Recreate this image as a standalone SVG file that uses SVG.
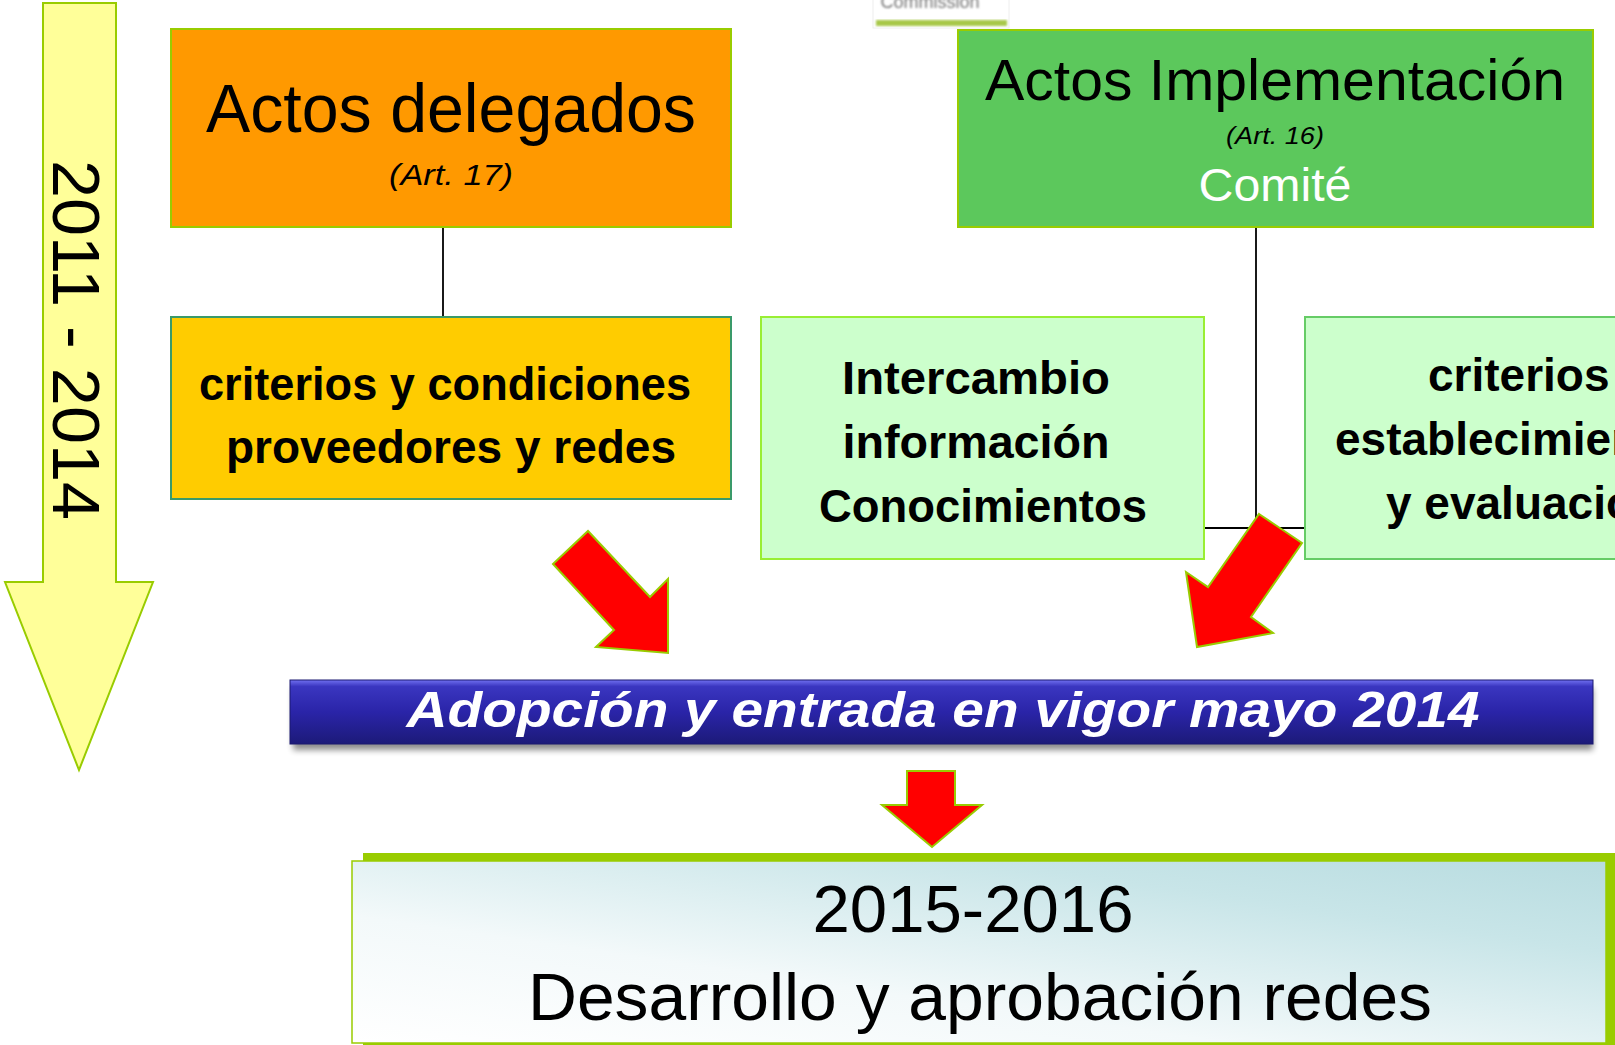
<svg xmlns="http://www.w3.org/2000/svg" width="1615" height="1045" viewBox="0 0 1615 1045">
<defs>
<style>
.box{stroke-width:2}
.sans{font-family:"Liberation Sans",Arial,sans-serif}
.bold{font-weight:bold}
.ital{font-style:italic}
.conn{stroke:#000;stroke-width:1.8;fill:none}
.red{fill:#FF0000;stroke:#99CC00;stroke-width:2;stroke-linejoin:miter}
</style>
<linearGradient id="blueGrad" x1="0" y1="0" x2="0" y2="1">
<stop offset="0" stop-color="#7070F0"/>
<stop offset="0.1" stop-color="#3A36C0"/>
<stop offset="0.5" stop-color="#2A24A8"/>
<stop offset="1" stop-color="#1C1A78"/>
</linearGradient>
<linearGradient id="tealGrad" x1="0" y1="1" x2="1" y2="0">
<stop offset="0" stop-color="#FFFFFF"/>
<stop offset="0.35" stop-color="#F3F9FA"/>
<stop offset="0.75" stop-color="#C8E5E8"/>
<stop offset="1" stop-color="#B8DCE0"/>
</linearGradient>
<filter id="shadow" x="-5%" y="-50%" width="110%" height="200%">
<feGaussianBlur stdDeviation="3"/>
</filter>
<filter id="blur1"><feGaussianBlur stdDeviation="0.8"/></filter>
</defs>

<g id="logo">
<rect x="873" y="-2" width="136" height="30" fill="#FFFFFF" stroke="#EEEEEE" stroke-width="1"/>
<text x="930" y="8" class="sans" font-size="18" fill="#777777" text-anchor="middle" filter="url(#blur1)">Commission</text>
<rect x="876" y="20" width="131" height="6" fill="#A8C84A" filter="url(#blur1)"/>
</g>

<g id="timeline">
<polygon points="43,3 116,3 116,582 153,582 79,770 5,582 43,582" fill="#FFFF99" stroke="#99CC00" stroke-width="2"/>
<text transform="translate(53,340) rotate(90)" x="0" y="0" class="sans" font-size="67" text-anchor="middle" textLength="360" lengthAdjust="spacingAndGlyphs" fill="#000">2011 - 2014</text>
</g>

<g id="connectors">
<line class="conn" x1="443" y1="227" x2="443" y2="317"/>
<line class="conn" x1="1256" y1="227" x2="1256" y2="528"/>
<line class="conn" x1="1204" y1="528" x2="1305" y2="528"/>
<polygon id="arrow1" class="red" points="553,564 588,531 650,597 668,579 668,653 596,647 614,630"/>
<polygon id="arrow2" class="red" points="1259,514 1302,543 1251,617 1273,633 1197,647 1186,572 1208,587"/>
<polygon id="arrow3" class="red" points="907,771 955,771 955,805 982,805 932,847 882,805 907,805"/>
</g>

<g id="actos-delegados">
<rect x="171" y="29" width="560" height="198" fill="#FF9900" stroke="#99CC00" class="box"/>
<text x="451" y="132" class="sans" font-size="68" text-anchor="middle" textLength="490" lengthAdjust="spacingAndGlyphs" fill="#000">Actos delegados</text>
<text x="451" y="185" class="sans ital" font-size="30" text-anchor="middle" textLength="124" lengthAdjust="spacingAndGlyphs" fill="#000">(Art. 17)</text>
</g>

<g id="actos-implementacion">
<rect x="958" y="30" width="635" height="197" fill="#5CC85C" stroke="#99CC00" class="box"/>
<text x="1275" y="100" class="sans" font-size="57" text-anchor="middle" textLength="580" lengthAdjust="spacingAndGlyphs" fill="#000">Actos Implementación</text>
<text x="1275" y="144" class="sans ital" font-size="24" text-anchor="middle" textLength="98" lengthAdjust="spacingAndGlyphs" fill="#000">(Art. 16)</text>
<text x="1275" y="201" class="sans" font-size="46" text-anchor="middle" textLength="153" lengthAdjust="spacingAndGlyphs" fill="#FFFFFF">Comité</text>
</g>

<g id="criterios-condiciones">
<rect x="171" y="317" width="560" height="182" fill="#FFCC00" stroke="#3A9A6A" class="box"/>
<text x="445" y="400" class="sans bold" font-size="46" text-anchor="middle" textLength="492" lengthAdjust="spacingAndGlyphs" fill="#000">criterios y condiciones</text>
<text x="451" y="463" class="sans bold" font-size="46" text-anchor="middle" textLength="450" lengthAdjust="spacingAndGlyphs" fill="#000">proveedores y redes</text>
</g>

<g id="intercambio">
<rect x="761" y="317" width="443" height="242" fill="#CCFFCC" stroke="#99EE33" class="box"/>
<text x="976" y="394" class="sans bold" font-size="46" text-anchor="middle" textLength="268" lengthAdjust="spacingAndGlyphs" fill="#000">Intercambio</text>
<text x="976" y="458" class="sans bold" font-size="46" text-anchor="middle" textLength="267" lengthAdjust="spacingAndGlyphs" fill="#000">información</text>
<text x="983" y="522" class="sans bold" font-size="46" text-anchor="middle" textLength="328" lengthAdjust="spacingAndGlyphs" fill="#000">Conocimientos</text>
</g>

<g id="criterios-establecimiento">
<rect x="1305" y="317" width="330" height="242" fill="#CCFFCC" stroke="#66CC66" class="box"/>
<text x="1428" y="391" class="sans bold" font-size="46" fill="#000">criterios</text>
<text x="1335" y="455" class="sans bold" font-size="46" fill="#000">establecimiento</text>
<text x="1386" y="519" class="sans bold" font-size="46" fill="#000">y evaluación</text>
</g>

<g id="adopcion">
<rect x="293" y="688" width="1300" height="62" fill="#000" opacity="0.45" filter="url(#shadow)"/>
<rect x="290" y="680" width="1303" height="64" fill="url(#blueGrad)" stroke="#1A1870" stroke-width="1"/>
<text x="943" y="727" class="sans bold ital" font-size="50" text-anchor="middle" textLength="1073" lengthAdjust="spacingAndGlyphs" fill="#FFFFFF">Adopción y entrada en vigor mayo 2014</text>
</g>

<g id="desarrollo">
<rect x="363" y="853" width="1262" height="200" fill="#99CC00"/>
<rect x="352" y="861" width="1254" height="182" fill="url(#tealGrad)" stroke="#99CC00" stroke-width="1.5"/>
<text x="973" y="932" class="sans" font-size="67" text-anchor="middle" textLength="321" lengthAdjust="spacingAndGlyphs" fill="#000">2015-2016</text>
<text x="980" y="1020" class="sans" font-size="67" text-anchor="middle" textLength="904" lengthAdjust="spacingAndGlyphs" fill="#000">Desarrollo y aprobación redes</text>
</g>
</svg>
